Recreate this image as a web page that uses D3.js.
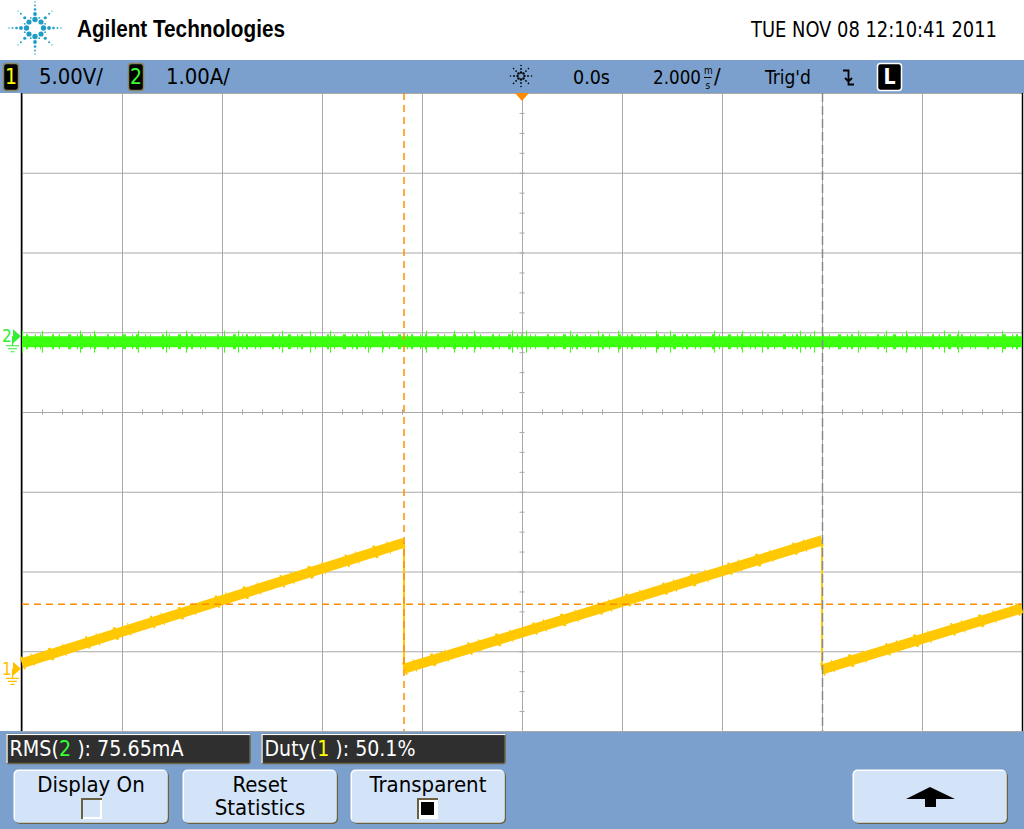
<!DOCTYPE html>
<html><head><meta charset="utf-8">
<script src="https://cdn.jsdelivr.net/npm/d3@7"></script>
<style>
body{margin:0;background:#fff;overflow:hidden}
svg{display:block}
text{font-family:"Liberation Sans Narrow","DejaVu Sans Condensed","Liberation Sans",Arial,sans-serif}
</style>
</head><body>
<svg id="c" width="1024" height="829"></svg>
<script>
// ---------------- data ----------------
const timeRangeMs = [-10, 10];          // 2.000 ms/div, 10 divisions, centred on 0.0s
const gridTimes = [-10, -8, -6, -4, -2, 0, 2, 4, 6, 8, 10];
const gridDivs = [0, 1, 2, 3, 4, 5, 6, 7, 8];
const ch1Range = [-3.9, 36.1];           // volts (5.00 V/div)
const ch2Range = [-4.95, 3.05];          // amps  (1.00 A/div)
// channel 1 sawtooth (time ms, volts)
const ch1Time  = [-10, -2.36, -2.36, 6.0, 6.0, 10];
const ch1Volts = [0.35, 7.9, 0.0, 8.05, -0.05, 3.8];
// channel 2 current (time ms, amps)
const ch2Time = [-10, 10];
const ch2Amps = [-0.07, -0.07];
// cursors
const xCursorTimes = [-2.36];
const x2CursorTimes = [6.0];
const yCursorVolts = [4.05];
// labels
const brand = "Agilent Technologies";
const dateLabel = "TUE NOV 08 12:10:41 2011";
const ch1Scale = "5.00V/";
const ch2Scale = "1.00A/";
const delayLabel = "0.0s";
const timebaseLabel = "2.000";
const trigLabel = "Trig'd";
const meas1 = ["RMS(", "2", " ): 75.65mA"];
const meas2 = ["Duty(", "1", " ): 50.1%"];
const buttonLabels = [["Display On"], ["Reset", "Statistics"], ["Transparent"], []];

// ---------------- layout ----------------
const BLUE = "#7ba0cd", GRID = "#a9a9a9", YEL = "#ffc800", GRN = "#3cff10", ORG = "#ff8c00";
const plot = {l: 22, r: 1022, t: 93, b: 731};
const svg = d3.select("#c");
const x = d3.scaleLinear().domain(timeRangeMs).range([plot.l, plot.r]);
const yDiv = d3.scaleLinear().domain([0, 8]).range([plot.t, plot.b]);
const y1 = d3.scaleLinear().domain(ch1Range).range([plot.b, plot.t]);
const y2 = d3.scaleLinear().domain(ch2Range).range([plot.b, plot.t]);

svg.append("rect").attr("width", 1024).attr("height", 829).attr("fill", "#fff");
svg.append("rect").attr("x", 0).attr("y", 60).attr("width", 1024).attr("height", 33).attr("fill", BLUE);
svg.append("rect").attr("x", 0).attr("y", 731).attr("width", 1024).attr("height", 98).attr("fill", BLUE);

// helper: scale font-size so the text's natural width equals target
function fit(t, target) {
  const fs = +t.attr("font-size");
  const w = t.node().getComputedTextLength();
  if (w > 0) t.attr("font-size", (fs * target / w).toFixed(2));
  return t;
}

// ---------- header ----------
const logo = svg.append("g").attr("transform", "translate(35,28)");
const logoDots = [];
[0, 90, 180, 270].forEach(a => {
  [[8.5, 2.7], [14, 1.9], [18.5, 1.3], [22.5, 0.9], [26, 0.7]].forEach(([r, s]) => logoDots.push([a, r, s]));
});
[45, 135, 225, 315].forEach(a => {
  [[8.5, 2.6], [14.5, 1.6], [20, 1.0], [24, 0.6]].forEach(([r, s]) => logoDots.push([a, r, s]));
});
[22.5, 67.5, 112.5, 157.5, 202.5, 247.5, 292.5, 337.5].forEach(a => {
  [[11, 0.9]].forEach(([r, s]) => logoDots.push([a, r, s]));
});
logo.selectAll("circle").data(logoDots).join("circle")
  .attr("cx", d => d[1] * Math.cos(d[0] * Math.PI / 180))
  .attr("cy", d => d[1] * Math.sin(d[0] * Math.PI / 180))
  .attr("r", d => d[2]).attr("fill", "#1e9cc6");

svg.append("text").attr("x", 77).attr("y", 37).attr("font-size", 23).attr("font-weight", "bold")
  .attr("textLength", 208).attr("lengthAdjust", "spacingAndGlyphs")
  .style("font-family", "'Liberation Sans','DejaVu Sans',Arial,sans-serif").text(brand);
svg.append("text").attr("x", 751).attr("y", 37).attr("font-size", 22)
  .attr("textLength", 246).attr("lengthAdjust", "spacingAndGlyphs").text(dateLabel);

// ---------- top status bar ----------
function chanBox(x0, label, col) {
  svg.append("rect").attr("x", x0).attr("y", 63.5).attr("width", 15).attr("height", 27).attr("rx", 3)
    .attr("fill", "#000").attr("stroke", "#8a8360").attr("stroke-width", 1.5);
  svg.append("text").attr("x", x0 + 7.5).attr("y", 84).attr("text-anchor", "middle")
    .attr("font-size", 21).attr("fill", col).text(label);
}
chanBox(3.5, "1", "#ffff00");
chanBox(128.5, "2", "#33ff33");
const barText = (x0, t, len) => fit(svg.append("text").attr("x", x0).attr("y", 84).attr("font-size", 22).text(t), len);
barText(39, ch1Scale, 64);
barText(166, ch2Scale, 64);
barText(573, delayLabel, 37);
barText(653, timebaseLabel, 48);
svg.append("text").attr("x", 704).attr("y", 74).attr("font-size", 10).text("m");
svg.append("text").attr("x", 705.5).attr("y", 89).attr("font-size", 10).text("s");
svg.append("line").attr("x1", 704).attr("x2", 711.5).attr("y1", 77.5).attr("y2", 77.5).attr("stroke", "#000").attr("stroke-width", 1);
svg.append("text").attr("x", 714).attr("y", 84).attr("font-size", 22).text("/");
barText(765, trigLabel, 46);
// acquisition star icon
const star = svg.append("g").attr("transform", "translate(521,76)");
const starDots = [];
[0, 45, 90, 135, 180, 225, 270, 315].forEach(a => [[3.5, 1.2], [7, 0.9], [10.5, 0.8]].forEach(([r, s]) => starDots.push([a, r, s])));
star.selectAll("circle").data(starDots).join("circle")
  .attr("cx", d => d[1] * Math.cos(d[0] * Math.PI / 180))
  .attr("cy", d => d[1] * Math.sin(d[0] * Math.PI / 180))
  .attr("r", d => d[2]).attr("fill", "#000");
// falling edge symbol
svg.append("path").attr("d", "M843,70.5H848.5V84.5H854 M845,78L848.5,81.5L852,78")
  .attr("fill", "none").attr("stroke", "#000").attr("stroke-width", 1.8);
// L box
svg.append("rect").attr("x", 877.5).attr("y", 63.5).attr("width", 24).attr("height", 27).attr("rx", 3)
  .attr("fill", "#000").attr("stroke", "#fff").attr("stroke-width", 1.5);
svg.append("text").attr("x", 889.5).attr("y", 84).attr("text-anchor", "middle").attr("font-size", 21)
  .attr("font-weight", "bold").attr("fill", "#fff").text("L");

// ---------- grid ----------
const grid = svg.append("g");
grid.append("g").attr("transform", `translate(0,${plot.t})`)
  .call(d3.axisTop(x).tickValues(gridTimes).tickSize(-(plot.b - plot.t)).tickFormat(""))
  .call(g => g.select(".domain").remove())
  .call(g => g.selectAll("line").attr("stroke", GRID));
grid.append("g").attr("transform", `translate(${plot.l},0)`)
  .call(d3.axisLeft(yDiv).tickValues(gridDivs).tickSize(-(plot.r - plot.l)).tickFormat(""))
  .call(g => g.select(".domain").remove())
  .call(g => g.selectAll("line").attr("stroke", GRID));
// centre-line minor ticks
const xMinor = d3.range(-10, 10.001, 0.4);
grid.append("g").attr("transform", `translate(0,${yDiv(4) + 2.5})`)
  .call(d3.axisTop(x).tickValues(xMinor).tickSize(5).tickFormat(""))
  .call(g => g.select(".domain").remove())
  .call(g => g.selectAll("line").attr("stroke", GRID));
const yMinor = d3.range(0, 8.001, 0.25);
grid.append("g").attr("transform", `translate(${x(0) + 2.5},0)`)
  .call(d3.axisLeft(yDiv).tickValues(yMinor).tickSize(5).tickFormat(""))
  .call(g => g.select(".domain").remove())
  .call(g => g.selectAll("line").attr("stroke", GRID));
// frame
svg.append("line").attr("x1", 21.5).attr("x2", 21.5).attr("y1", plot.t).attr("y2", plot.b).attr("stroke", "#000").attr("stroke-width", 1.5);
svg.append("line").attr("x1", 1022.5).attr("x2", 1022.5).attr("y1", plot.t).attr("y2", plot.b).attr("stroke", "#000").attr("stroke-width", 1.5);

// ---------- traces ----------
const line2 = d3.line().x((d, i) => x(ch2Time[i])).y(d => y2(d));
const tr = svg.append("g");
tr.append("path").attr("d", line2(ch2Amps)).attr("stroke", GRN).attr("stroke-width", 22).attr("fill", "none")
  .attr("stroke-dasharray", "1,19,1,37,1,13,1,43,1,27");
tr.append("path").attr("d", line2(ch2Amps)).attr("stroke", GRN).attr("stroke-width", 15).attr("fill", "none")
  .attr("stroke-dasharray", "1,3,2,7,1,4,1,11,2,5,1,8,3,6");
tr.append("path").attr("d", line2(ch2Amps)).attr("stroke", GRN).attr("stroke-width", 11).attr("fill", "none");

const ramps = [[0, 1], [2, 3], [4, 5]];
const drops = [[1, 2], [3, 4]];
const seg = ([a, b]) => `M${x(ch1Time[a])},${y1(ch1Volts[a])}L${x(ch1Time[b])},${y1(ch1Volts[b])}`;
drops.forEach(d => tr.append("path").attr("d", seg(d)).attr("stroke", YEL).attr("stroke-width", 2).attr("fill", "none"));
ramps.forEach(r => {
  tr.append("path").attr("d", seg(r)).attr("stroke", YEL).attr("stroke-width", 13).attr("fill", "none")
    .attr("stroke-dasharray", "2,9,1,17,3,12,1,23");
  tr.append("path").attr("d", seg(r)).attr("stroke", YEL).attr("stroke-width", 10).attr("fill", "none");
});

// ---------- cursors ----------
svg.selectAll(".xc").data(xCursorTimes).join("line").attr("class", "xc")
  .attr("x1", d => x(d)).attr("x2", d => x(d)).attr("y1", plot.t).attr("y2", plot.b)
  .attr("stroke", ORG).attr("stroke-width", 1.5).attr("stroke-dasharray", "7,5");
svg.selectAll(".xc2").data(x2CursorTimes).join("line").attr("class", "xc2")
  .attr("x1", d => x(d) + 0.5).attr("x2", d => x(d) + 0.5).attr("y1", plot.t).attr("y2", plot.b)
  .attr("stroke", "#8a8a8a").attr("stroke-width", 1.5).attr("stroke-dasharray", "9,4");
svg.selectAll(".yc").data(yCursorVolts).join("line").attr("class", "yc")
  .attr("x1", plot.l).attr("x2", plot.r).attr("y1", d => y1(d)).attr("y2", d => y1(d))
  .attr("stroke", ORG).attr("stroke-width", 1.5).attr("stroke-dasharray", "7,5");
// trigger position marker
svg.append("path").attr("d", `M${x(0) - 7},${plot.t}L${x(0) + 7},${plot.t}L${x(0)},${plot.t + 8}Z`).attr("fill", ORG);

// ---------- channel ground markers ----------
function gndMarker(yy, label, col) {
  const g = svg.append("g").attr("fill", col).attr("stroke", col);
  g.append("text").attr("x", 2).attr("y", yy + 6).attr("font-size", 17).attr("stroke", "none").text(label);
  g.append("path").attr("d", `M13,${yy - 7}L21,${yy}L13,${yy + 7}Z`).attr("stroke", "none");
  g.append("path").attr("d", `M12.5,${yy}V${yy + 9} M6,${yy + 9.5}H19 M8,${yy + 12.5}H17 M10.5,${yy + 15.5}H14.5`)
    .attr("fill", "none").attr("stroke-width", 1.2);
}
gndMarker(y2(0), "2", "#33ee33");
gndMarker(y1(0), "1", "#ffc000");

// ---------- measurement boxes ----------
function measBox(x0, parts, col, len) {
  svg.append("rect").attr("x", x0).attr("y", 734.5).attr("width", 243).attr("height", 29).attr("rx", 2)
    .attr("fill", "#2f2f2f").attr("stroke", "#6b6445").attr("stroke-width", 1.5);
  svg.append("path").attr("d", `M${x0},${763}V${734.5}H${x0 + 243}`).attr("fill", "none").attr("stroke", "#fff").attr("stroke-width", 1.2);
  const t = svg.append("text").attr("x", x0 + 2.5).attr("y", 756).attr("font-size", 22).attr("fill", "#fff");
  t.append("tspan").text(parts[0]);
  t.append("tspan").attr("fill", col).text(parts[1]);
  t.append("tspan").text(parts[2]);
  fit(t, len);
}
measBox(7, meas1, "#33ff33", 174);
measBox(262, meas2, "#ffff00", 151);

// ---------- soft-key buttons ----------
const btnX = [14, 183, 351, 853];
btnX.forEach((bx, i) => {
  const w = 154, h = 53, by = 770;
  svg.append("rect").attr("x", bx + 1).attr("y", by + 1).attr("width", w).attr("height", h).attr("rx", 5).attr("fill", "#6b6040");
  svg.append("rect").attr("x", bx - 0.5).attr("y", by - 0.5).attr("width", w).attr("height", h).attr("rx", 5).attr("fill", "#fff");
  svg.append("rect").attr("x", bx + 1).attr("y", by + 1).attr("width", w - 1.5).attr("height", h - 1.5).attr("rx", 4).attr("fill", "#d3e4f8");
  const cx = bx + w / 2;
  buttonLabels[i].forEach((lbl, j) => {
    svg.append("text").attr("x", cx).attr("y", 792 + j * 23).attr("text-anchor", "middle").attr("font-size", 22).text(lbl);
  });
});
// checkboxes
function checkbox(cx, filled) {
  const x0 = cx - 10, y0 = 798;
  svg.append("rect").attr("x", x0).attr("y", y0).attr("width", 21).attr("height", 21).attr("fill", "#6b6040");
  svg.append("rect").attr("x", x0 + 2).attr("y", y0 + 2).attr("width", 19).attr("height", 19).attr("fill", "#fff");
  svg.append("rect").attr("x", x0 + 2).attr("y", y0 + 2).attr("width", 17).attr("height", 17).attr("fill", filled ? "#fff" : "#d3e4f8");
  if (filled) svg.append("rect").attr("x", x0 + 4).attr("y", y0 + 4).attr("width", 13).attr("height", 13).attr("fill", "#000");
}
checkbox(91, false);
checkbox(427, true);
// up arrow
svg.append("path").attr("d", "M930,787L955,799H936V807H925V799H906Z").attr("fill", "#000");
</script>
</body></html>
